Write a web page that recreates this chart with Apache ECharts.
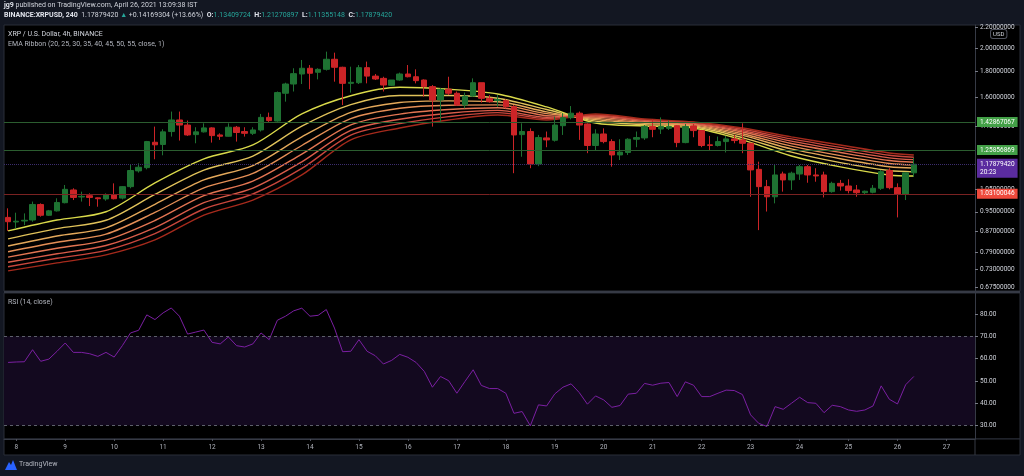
<!DOCTYPE html>
<html>
<head>
<meta charset="utf-8">
<script src="https://cdn.jsdelivr.net/npm/echarts@6/dist/echarts.min.js"></script>
<style>
html, body { margin: 0; padding: 0; background: #131722; }
#chart { width: 1024px; height: 476px; }
</style>
</head>
<body>
<div id="chart"></div>
<script>
// 4h candles, first bar Apr 7 20:00 -> [open, close, low, high]
const candles = [
  [0.926, 0.908, 0.871, 0.965], [0.907, 0.910, 0.881, 0.946], [0.911, 0.914, 0.894, 0.943], [0.915, 0.982, 0.908, 0.995],
  [0.982, 0.935, 0.929, 0.987], [0.935, 0.954, 0.932, 0.958], [0.954, 0.991, 0.951, 1.010], [0.990, 1.052, 0.987, 1.073],
  [1.049, 1.014, 1.002, 1.057], [1.016, 1.019, 0.995, 1.041], [1.022, 1.014, 0.975, 1.033], [1.012, 1.008, 0.972, 1.014],
  [1.007, 1.025, 0.999, 1.033], [1.025, 1.008, 1.005, 1.081], [1.011, 1.065, 1.005, 1.068], [1.065, 1.146, 1.057, 1.180],
  [1.144, 1.163, 1.135, 1.184], [1.161, 1.307, 1.152, 1.311], [1.303, 1.288, 1.206, 1.399], [1.290, 1.366, 1.228, 1.382],
  [1.368, 1.442, 1.337, 1.498], [1.442, 1.409, 1.313, 1.498], [1.409, 1.347, 1.341, 1.438], [1.349, 1.366, 1.297, 1.395],
  [1.366, 1.391, 1.362, 1.420], [1.391, 1.343, 1.301, 1.395], [1.347, 1.339, 1.317, 1.357], [1.339, 1.395, 1.337, 1.420],
  [1.395, 1.362, 1.307, 1.403], [1.368, 1.357, 1.337, 1.395], [1.357, 1.378, 1.347, 1.395], [1.378, 1.459, 1.368, 1.482],
  [1.459, 1.438, 1.429, 1.491], [1.435, 1.633, 1.431, 1.641], [1.628, 1.698, 1.567, 1.708], [1.698, 1.780, 1.641, 1.824],
  [1.777, 1.824, 1.698, 1.894], [1.824, 1.783, 1.658, 1.851], [1.791, 1.815, 1.734, 1.824], [1.815, 1.900, 1.805, 1.967],
  [1.900, 1.832, 1.716, 1.958], [1.832, 1.703, 1.543, 1.837], [1.703, 1.711, 1.633, 1.837], [1.708, 1.829, 1.698, 1.851],
  [1.829, 1.760, 1.703, 1.880], [1.760, 1.737, 1.729, 1.777], [1.742, 1.690, 1.641, 1.755], [1.688, 1.729, 1.683, 1.729],
  [1.729, 1.777, 1.724, 1.788], [1.777, 1.755, 1.750, 1.851], [1.755, 1.724, 1.703, 1.815], [1.729, 1.678, 1.603, 1.734],
  [1.678, 1.579, 1.399, 1.690], [1.579, 1.658, 1.431, 1.666], [1.658, 1.628, 1.615, 1.755], [1.628, 1.543, 1.538, 1.641],
  [1.543, 1.607, 1.520, 1.633], [1.607, 1.708, 1.603, 1.742], [1.708, 1.591, 1.560, 1.708], [1.591, 1.567, 1.560, 1.615],
  [1.575, 1.583, 1.531, 1.615], [1.574, 1.531, 1.520, 1.584], [1.531, 1.347, 1.132, 1.543], [1.349, 1.368, 1.220, 1.420],
  [1.368, 1.180, 1.158, 1.388], [1.180, 1.331, 1.169, 1.347], [1.329, 1.317, 1.274, 1.368], [1.315, 1.409, 1.307, 1.464],
  [1.405, 1.457, 1.347, 1.487], [1.457, 1.487, 1.446, 1.536], [1.487, 1.409, 1.317, 1.498], [1.416, 1.284, 1.240, 1.420],
  [1.284, 1.353, 1.254, 1.382], [1.353, 1.307, 1.297, 1.388], [1.307, 1.230, 1.166, 1.321], [1.230, 1.246, 1.202, 1.321],
  [1.244, 1.321, 1.230, 1.327], [1.321, 1.331, 1.274, 1.368], [1.329, 1.399, 1.317, 1.409], [1.399, 1.382, 1.333, 1.446],
  [1.384, 1.399, 1.353, 1.459], [1.388, 1.399, 1.378, 1.438], [1.405, 1.301, 1.274, 1.409], [1.301, 1.399, 1.297, 1.416],
  [1.403, 1.374, 1.333, 1.416], [1.374, 1.284, 1.274, 1.378], [1.288, 1.284, 1.258, 1.341], [1.284, 1.307, 1.278, 1.337],
  [1.307, 1.323, 1.244, 1.341], [1.323, 1.313, 1.297, 1.347], [1.317, 1.297, 1.240, 1.420], [1.297, 1.149, 1.017, 1.300],
  [1.152, 1.065, 0.874, 1.193], [1.065, 1.017, 0.951, 1.098], [1.017, 1.123, 0.987, 1.178], [1.128, 1.098, 1.041, 1.140],
  [1.098, 1.132, 1.049, 1.140], [1.128, 1.166, 1.098, 1.175], [1.166, 1.123, 1.084, 1.175], [1.123, 1.118, 1.089, 1.158],
  [1.123, 1.041, 1.014, 1.140], [1.041, 1.081, 1.036, 1.089], [1.081, 1.068, 1.046, 1.098], [1.068, 1.046, 1.033, 1.101],
  [1.049, 1.036, 1.017, 1.073], [1.036, 1.043, 1.028, 1.046], [1.038, 1.057, 1.033, 1.073], [1.057, 1.140, 1.049, 1.149],
  [1.146, 1.060, 1.052, 1.158], [1.060, 1.028, 0.926, 1.081], [1.030, 1.134, 1.002, 1.135], [1.134, 1.179, 1.114, 1.213]
];

const rsi = [
  58.3, 58.5, 58.6, 64.0, 58.8, 59.8, 63.3, 67.0, 62.8, 62.8, 62.2, 61.0, 62.8, 60.7, 65.8, 71.5,
  72.7, 79.6, 77.5, 80.5, 82.7, 79.0, 71.0, 71.9, 72.8, 67.3, 66.6, 69.7, 65.8, 65.2, 66.6, 71.5,
  68.5, 77.2, 79.0, 81.4, 82.6, 79.0, 79.4, 82.0, 73.7, 63.1, 63.3, 68.5, 63.3, 61.3, 57.6, 59.2,
  61.9, 60.6, 58.3, 54.3, 47.2, 52.0, 50.1, 44.5, 49.8, 55.0, 48.0, 46.6, 46.6, 44.5, 35.5, 36.3,
  29.9, 39.3, 38.8, 44.2, 47.2, 48.7, 44.8, 39.6, 43.3, 41.5, 38.2, 39.0, 44.1, 44.5, 48.9, 48.1,
  49.0, 49.3, 43.0, 49.6, 48.1, 43.0, 43.0, 44.5, 45.9, 45.7, 43.9, 34.8, 31.0, 29.6, 38.5, 37.3,
  40.0, 42.7, 40.3, 40.0, 35.8, 39.1, 38.5, 37.0, 36.4, 37.0, 38.8, 47.8, 41.8, 39.7, 48.3, 52.0
];

// EMA ribbon read at every 6th bar (bar index)
const emaIdx = [0, 6, 12, 18, 24, 30, 36, 42, 48, 54, 60, 66, 72, 78, 84, 90, 96, 102, 108, 111];
const ema20 = [0.871, 0.915, 0.950, 1.083, 1.208, 1.287, 1.482, 1.610, 1.673, 1.658, 1.623, 1.530, 1.422, 1.403, 1.390, 1.317, 1.224, 1.165, 1.123, 1.118];
const ema25 = [0.840, 0.880, 0.914, 1.028, 1.148, 1.224, 1.402, 1.546, 1.612, 1.612, 1.592, 1.512, 1.434, 1.412, 1.398, 1.331, 1.246, 1.188, 1.146, 1.139];
const ema30 = [0.813, 0.851, 0.883, 0.983, 1.098, 1.172, 1.335, 1.493, 1.561, 1.573, 1.566, 1.496, 1.444, 1.420, 1.404, 1.344, 1.264, 1.209, 1.166, 1.159];
const ema35 = [0.792, 0.827, 0.858, 0.947, 1.059, 1.131, 1.284, 1.451, 1.521, 1.542, 1.544, 1.484, 1.453, 1.426, 1.410, 1.354, 1.280, 1.226, 1.183, 1.175];
const ema40 = [0.773, 0.805, 0.835, 0.913, 1.022, 1.092, 1.235, 1.410, 1.481, 1.512, 1.524, 1.471, 1.461, 1.433, 1.415, 1.365, 1.296, 1.244, 1.199, 1.190];
const ema45 = [0.755, 0.785, 0.815, 0.884, 0.990, 1.058, 1.192, 1.375, 1.447, 1.487, 1.506, 1.460, 1.468, 1.439, 1.420, 1.374, 1.310, 1.259, 1.214, 1.204];
const ema50 = [0.740, 0.769, 0.797, 0.860, 0.962, 1.030, 1.157, 1.346, 1.418, 1.464, 1.491, 1.451, 1.475, 1.443, 1.425, 1.382, 1.323, 1.273, 1.228, 1.217];
const ema55 = [0.726, 0.753, 0.781, 0.836, 0.936, 1.002, 1.123, 1.317, 1.390, 1.442, 1.475, 1.442, 1.482, 1.448, 1.429, 1.390, 1.335, 1.287, 1.241, 1.230];

const priceTicks = [0.675, 0.73, 0.79, 0.87, 0.95, 1.05, 1.4, 1.6, 1.8, 2.0, 2.2];
const rsiTicks = [30, 40, 50, 60, 70, 80];
const greenLevels = [1.42867067, 1.25856869];
const redLevel = 1.03100046;
const lastPrice = 1.17879420;
const countdown = '20:23';

// time slots: 4h bars starting Apr 7 20:00, with empty space on the right
const cats = [];
for (let i = 0; i < 119; i++) {
  const t = 20 + 4 * i;
  cats.push((7 + Math.floor(t / 24)) + '-' + (t % 24));
}
const isDay = (idx, v) => String(v).endsWith('-0');

const FONT = 'Roboto';
const UP = '#1e7232', DOWN = '#cc2427';
const emaLines = [ema20, ema25, ema30, ema35, ema40, ema45, ema50, ema55];
const emaColors = ['#d9d94a', '#e0c25a', '#e3a85a', '#e48e56', '#e27552', '#d95d4a', '#c8463c', '#a52a1c'];

const chart = echarts.init(document.getElementById('chart'));

const levelLabel = (bg, text) => ({
  show: true, position: 'end', distance: 2, color: '#fff', fontFamily: FONT, fontSize: 6.5,
  backgroundColor: bg, padding: [2, 3, 1, 3], formatter: () => text
});

const option = {
  backgroundColor: '#131722',
  animation: false,
  graphic: [
    { type: 'rect', z: -100, shape: { x: 4, y: 25, width: 1016, height: 266 }, style: { fill: '#000', stroke: '#2a2e39', lineWidth: 1 } },
    { type: 'rect', z: -100, shape: { x: 4, y: 293, width: 1016, height: 146 }, style: { fill: '#000', stroke: '#2a2e39', lineWidth: 1 } },
    { type: 'rect', z: -100, shape: { x: 4, y: 439, width: 1016, height: 16 }, style: { fill: '#000', stroke: '#2a2e39', lineWidth: 1 } },
    { type: 'line', z: 10, shape: { x1: 4, y1: 292, x2: 1020, y2: 292 }, style: { stroke: '#363a45', lineWidth: 2 } },
    { type: 'line', z: 10, shape: { x1: 975, y1: 439, x2: 975, y2: 455 }, style: { stroke: '#363a45', lineWidth: 1 } },
    {
      type: 'text', left: 4, top: 2,
      style: { text: '{b|jg9} published on TradingView.com, April 26, 2021 13:09:38 IST', fill: '#d1d4dc', font: '7px ' + FONT,
        rich: { b: { fontWeight: 'bold', fill: '#e0e3eb', fontSize: 7, fontFamily: FONT } } }
    },
    {
      type: 'text', left: 4, top: 12,
      style: {
        text: '{b|BINANCE:XRPUSD, 240}  1.17879420 {t|▲} +0.14169304 (+13.66%)  {b|O:}{t|1.13409724}  {b|H:}{t|1.21270897}  {b|L:}{t|1.11355148}  {b|C:}{t|1.17879420}',
        fill: '#d1d4dc', font: '7px ' + FONT,
        rich: {
          b: { fontWeight: 'bold', fill: '#e0e3eb', fontSize: 7, fontFamily: FONT },
          t: { fill: '#26a69a', fontSize: 7, fontFamily: FONT }
        }
      }
    },
    { type: 'text', left: 8, top: 31, style: { text: 'XRP / U.S. Dollar, 4h, BINANCE', fill: '#d1d4dc', font: '7px ' + FONT } },
    { type: 'text', left: 8, top: 41, style: { text: 'EMA Ribbon (20, 25, 30, 35, 40, 45, 50, 55, close, 1)', fill: '#b2b5be', font: '7px ' + FONT } },
    { type: 'text', left: 8, top: 299, style: { text: 'RSI (14, close)', fill: '#b2b5be', font: '7px ' + FONT } },
    {
      type: 'text', left: 990, top: 29, z: 20,
      style: { text: 'USD', fill: '#d1d4dc', font: '6px ' + FONT, backgroundColor: '#000', borderColor: '#50535e', borderWidth: 1, borderRadius: 2, padding: [1, 2] }
    },
    {
      type: 'polygon', left: 5, top: 460,
      shape: { points: [[0, 10], [4, 2], [6, 5], [8, 0], [12, 10]] }, style: { fill: '#2962ff' }
    },
    { type: 'text', left: 19, top: 461, style: { text: 'TradingView', fill: '#b2b5be', font: '7px ' + FONT } }
  ],
  grid: [
    { left: 4, right: 49, top: 25, height: 266 },
    { left: 4, right: 49, top: 293, height: 146 }
  ],
  xAxis: [
    {
      type: 'category', gridIndex: 0, data: cats, boundaryGap: true,
      axisLine: { show: false }, axisTick: { show: false }, axisLabel: { show: false }, splitLine: { show: false }
    },
    {
      type: 'category', gridIndex: 1, data: cats, boundaryGap: true,
      axisLine: { show: true, lineStyle: { color: '#363a45' } },
      axisTick: { show: true, alignWithLabel: true, interval: isDay, length: 2, lineStyle: { color: '#50535e' } },
      axisLabel: { interval: isDay, formatter: v => v.split('-')[0], color: '#b2b5be', fontFamily: FONT, fontSize: 6.5, margin: 5 },
      splitLine: { show: false }
    }
  ],
  yAxis: [
    {
      type: 'log', logBase: 10, gridIndex: 0, position: 'right', min: 0.6627, max: 2.2203, scale: true,
      axisLine: { show: true, lineStyle: { color: '#363a45' } },
      axisTick: { show: true, customValues: priceTicks, length: 3, lineStyle: { color: '#787b86' } },
      axisLabel: { customValues: priceTicks, formatter: v => Number(v).toFixed(8), color: '#d1d4dc', fontFamily: FONT, fontSize: 6.5, margin: 5 },
      splitLine: { show: false }
    },
    {
      type: 'value', gridIndex: 1, position: 'right', min: 24, max: 89.4,
      axisLine: { show: true, lineStyle: { color: '#363a45' } },
      axisTick: { show: true, customValues: rsiTicks, length: 3, lineStyle: { color: '#787b86' } },
      axisLabel: { customValues: rsiTicks, formatter: v => Number(v).toFixed(2), color: '#d1d4dc', fontFamily: FONT, fontSize: 6.5, margin: 5 },
      splitLine: { show: false }
    }
  ],
  series: [
    {
      type: 'candlestick', xAxisIndex: 0, yAxisIndex: 0, data: candles, barWidth: 6, z: 3,
      itemStyle: { color: UP, color0: DOWN, borderColor: UP, borderColor0: DOWN, borderWidth: 1 },
      markLine: {
        silent: true, symbol: ['none', 'none'], animation: false, precision: 8,
        data: [
          { yAxis: greenLevels[0], lineStyle: { color: '#2b5d2f', type: 'solid', width: 1 }, label: levelLabel('#43a047', greenLevels[0].toFixed(8)) },
          { yAxis: greenLevels[1], lineStyle: { color: '#2b5d2f', type: 'solid', width: 1 }, label: levelLabel('#43a047', greenLevels[1].toFixed(8)) },
          { yAxis: redLevel, lineStyle: { color: '#7a2222', type: 'solid', width: 1 }, label: levelLabel('#ef4a3c', redLevel.toFixed(8)) },
          {
            yAxis: lastPrice, lineStyle: { color: '#3c2d6e', type: 'dotted', width: 1 },
            label: Object.assign(levelLabel('#5b2c9f', lastPrice.toFixed(8) + '\n' + countdown), { lineHeight: 8, offset: [0, 4] })
          }
        ]
      }
    }
  ].concat(emaLines.map((vals, k) => ({
    type: 'line', xAxisIndex: 0, yAxisIndex: 0, symbol: 'none', smooth: 0.3, silent: true, z: 2,
    data: emaIdx.map((ix, j) => [ix, vals[j]]),
    lineStyle: { color: emaColors[k], width: 1.4 }
  }))).concat([
    {
      type: 'line', xAxisIndex: 1, yAxisIndex: 1, data: rsi, symbol: 'none', silent: true,
      lineStyle: { color: '#7b1fa2', width: 1 },
      markArea: { silent: true, itemStyle: { color: '#13091f' }, data: [[{ yAxis: 30 }, { yAxis: 70 }]] },
      markLine: {
        silent: true, symbol: ['none', 'none'], label: { show: false },
        lineStyle: { color: '#5d606b', type: [3, 3], width: 1 },
        data: [{ yAxis: 70 }, { yAxis: 30 }]
      }
    }
  ])
};

chart.setOption(option);
</script>
</body>
</html>
